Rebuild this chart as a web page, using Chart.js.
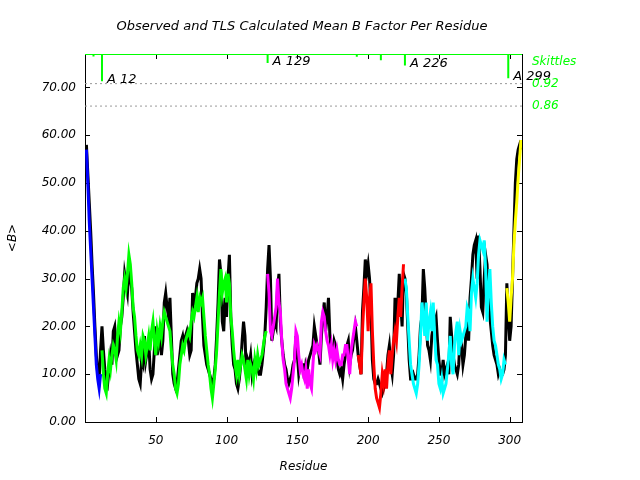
<!DOCTYPE html>
<html>
<head>
<meta charset="utf-8">
<script src="https://cdn.jsdelivr.net/npm/chart.js@4.4.0/dist/chart.umd.min.js"></script>
<style>
html,body{margin:0;padding:0;background:#ffffff;}
#wrap{width:640px;height:480px;}
</style>
</head>
<body>
<div id="wrap"><canvas id="c" width="640" height="480"></canvas></div>
<script>
// ---------------- DATA ----------------
const firstResidue = 1;

// Observed mean B factor per residue (black)
const observed = [
  58, 52, 46, 40, 33, 27, 20, 14, 10, 9,
  15, 20, 15, 11, 9, 8, 11, 14, 12, 19,
  20, 16, 14, 15, 20, 22, 26, 31, 29, 27,
  32, 30, 28, 23, 19, 15, 12, 9, 8, 13,
  12, 18, 13, 15, 17, 11, 9, 10, 15, 20,
  14, 16, 18, 14, 17, 25, 27, 24, 22, 26,
  18, 10, 8, 7, 8, 11, 14, 17, 18, 16,
  18, 19, 17, 14, 15, 27, 25, 26, 29, 30,
  32, 30, 22, 16, 14, 12, 11, 10, 9, 8,
  9, 12, 18, 25, 34, 31, 21, 19, 26, 22,
  30, 35, 22, 16, 12, 11, 8, 7, 9, 12,
  17, 21, 18, 10, 13, 12, 14, 10, 12, 13,
  12, 11, 10, 10, 12, 15, 18, 24, 32, 37,
  30, 17, 19, 21, 20, 28, 31, 21, 17, 14,
  12, 11, 9, 8, 9, 10, 12, 13, 18, 14,
  10, 12, 12, 12, 9, 12, 11, 13, 14, 15,
  16, 20, 18, 16, 15, 12, 18, 22, 25, 19,
  22, 26, 18, 15, 14, 17, 16, 13, 11, 10,
  11, 9, 12, 14, 16, 17, 12, 14, 15, 18,
  20, 17, 14, 12, 10, 23, 28, 34, 31, 33,
  30, 24, 13, 9, 8, 8, 9, 8, 7, 6,
  7, 8, 10, 14, 16, 12, 10, 14, 26, 20,
  25, 31, 25, 20, 31, 30, 27, 20, 13, 9,
  9, 10, 9, 9, 10, 14, 20, 22, 32, 28,
  22, 16, 15, 13, 18, 20, 21, 22, 17, 13,
  10, 10, 13, 10, 11, 12, 10, 22, 18, 14,
  12, 11, 10, 12, 18, 16, 12, 14, 18, 21,
  17, 26, 30, 35, 37, 38, 30, 39, 32, 24,
  23, 30, 35, 33, 26, 22, 19, 16, 14, 13,
  12, 10, 11, 10, 10, 11, 14, 29, 22, 17,
  20, 30, 40, 50, 55, 57, 58, 57
];

// TLS calculated mean B factor per residue (coloured by TLS segment)
const tlsCalc = [
  57, 50, 42, 36, 30, 24, 18, 12, 9, 7,
  10, 15, 10, 7, 6, 10, 13, 11, 14, 16,
  15, 13, 18, 21, 19, 23, 28, 30, 28, 31,
  35, 33, 29, 24, 22, 18, 15, 14, 16, 14,
  18, 17, 14, 16, 18, 15, 19, 21, 17, 14,
  19, 17, 20, 18, 21, 23, 22, 21, 20, 19,
  15, 12, 10, 7, 6, 8, 12, 14, 16, 15,
  17, 18, 19, 18, 21, 23, 22, 24, 26, 23,
  26, 25, 26, 22, 18, 15, 12, 10, 7, 5,
  8, 11, 15, 21, 27, 32, 27, 29, 30, 25,
  31, 29, 22, 19, 15, 12, 10, 13, 10, 12,
  14, 13, 11, 9, 13, 10, 12, 11, 9, 13,
  11, 14, 12, 13, 14, 16, 18, 19, 31, 27,
  19, 18, 20, 22, 24, 30, 25, 23, 17, 13,
  11, 8, 7, 6, 5, 7, 10, 13, 19, 18,
  14, 11, 12, 10, 9, 11, 7, 11, 8, 7,
  12, 16, 15, 16, 15, 14, 21, 23, 22, 19,
  17, 16, 14, 16, 13, 15, 13, 15, 13, 12,
  12, 14, 14, 16, 16, 13, 10, 15, 17, 19,
  21, 20, 14, 12, 10, 19, 25, 30, 26, 19,
  26, 29, 19, 12, 7, 5, 4, 3, 6, 10,
  8, 11, 7, 12, 15, 10, 14, 17, 19, 17,
  22, 26, 22, 28, 33, 30, 28, 22, 17, 12,
  10, 8, 7, 6, 8, 12, 18, 25, 22, 18,
  25, 17, 21, 23, 19, 25, 18, 13, 12, 8,
  7, 9, 6, 7, 8, 11, 14, 18, 12, 10,
  16, 19, 21, 14, 19, 17, 18, 19, 20, 24,
  23, 19, 27, 30, 28, 26, 29, 35, 38, 37,
  36, 38, 32, 21, 28, 32, 25, 20, 17, 16,
  14, 12, 11, 9, 10, 13, 12, 28, 25, 21,
  26, 30, 37, 42, 46, 51, 55, 59
];

// TLS segments (residue ranges)
const segmentStart = [1, 12, 129, 193, 226, 298];
const segmentEnd   = [11, 128, 192, 225, 297, 308];

// Skittles marks along the top
const skittleTop = 77;
const skittleResidues = [6, 12, 129, 192, 203, 206, 209, 213, 226, 299];
const skittleDepth    = [76.5, 71.3, 75.1, 76.4, 76.8, 76.8, 75.7, 76.8, 74.6, 71.9];

// Segment boundary labels
const markerResidues = [12, 129, 226, 299];
const markerLabels   = ['A 12', 'A 129', 'A 226', 'A 299'];

// Threshold lines
const thresholdValues = [70.8, 66.1];
const thresholdLabels = ['0.92', '0.86'];

// Axis ticks / ranges
const xTicks = [50, 100, 150, 200, 250, 300];
const yTicks = [0, 10, 20, 30, 40, 50, 60, 70];
const xRange = [0, 308.7];
const yRange = [0, 77];

// ---------------- STYLES ----------------
const segmentColors = ['#0000ff', '#00ff00', '#ff00ff', '#ff0000', '#00ffff', '#ffff00'];
const skittleColor = '#00ff00';
const FONT = '"DejaVu Sans", sans-serif';

// ---------------- BUILD ----------------
const obsPoints = observed.map((v, i) => ({ x: firstResidue + i, y: v }));

const segDatasets = segmentStart.map((s, k) => ({
  label: 'TLS ' + (k + 1),
  data: tlsCalc.slice(s - firstResidue, segmentEnd[k] - firstResidue + 1)
               .map((v, j) => ({ x: s + j, y: v })),
  borderColor: segmentColors[k],
  borderWidth: 3,
  pointRadius: 0,
  tension: 0,
  order: 2
}));

const skPoints = [{ x: xRange[0], y: skittleTop }];
skittleResidues.forEach((r, i) => {
  skPoints.push({ x: r, y: skittleTop }, { x: r, y: skittleDepth[i] }, { x: r, y: skittleTop });
});
skPoints.push({ x: xRange[1], y: skittleTop });

const thresholdDatasets = thresholdValues.map((t) => ({
  data: [{ x: xRange[0], y: t }, { x: xRange[1], y: t }],
  borderColor: '#999999',
  borderWidth: 1,
  borderDash: [2, 3],
  pointRadius: 0,
  order: 20
}));

const frame = {
  id: 'frame',
  beforeDatasetsDraw(chart) {
    const { ctx, chartArea: a, scales: { x, y } } = chart;
    ctx.save();
    ctx.strokeStyle = '#000';
    ctx.lineWidth = 1;
    ctx.strokeRect(Math.round(a.left) + 0.5, Math.round(a.top) + 0.5,
                   Math.round(a.right - a.left), Math.round(a.bottom - a.top));
    ctx.beginPath();
    const L = 5;
    xTicks.forEach(v => {
      const px = Math.round(x.getPixelForValue(v)) + 0.5;
      ctx.moveTo(px, a.bottom); ctx.lineTo(px, a.bottom - L);
      ctx.moveTo(px, a.top); ctx.lineTo(px, a.top + L);
    });
    yTicks.forEach(v => {
      const py = Math.round(y.getPixelForValue(v)) + 0.5;
      ctx.moveTo(a.left, py); ctx.lineTo(a.left + L, py);
      ctx.moveTo(a.right, py); ctx.lineTo(a.right - L, py);
    });
    ctx.stroke();
    ctx.restore();
  },
  afterDraw(chart) {
    const { ctx, chartArea: a, scales: { x, y } } = chart;
    ctx.save();
    ctx.fillStyle = '#000';
    ctx.textBaseline = 'middle';
    ctx.textAlign = 'center';
    ctx.font = 'italic 13px ' + FONT;
    ctx.fillText('Observed and TLS Calculated Mean B Factor Per Residue', 302, 27);
    ctx.font = 'italic 12px ' + FONT;
    ctx.fillText('Residue', (a.left + a.right) / 2, 467);
    ctx.save();
    ctx.translate(13, 238);
    ctx.rotate(-Math.PI / 2);
    ctx.fillText('<B>', 0, 0);
    ctx.restore();

    ctx.textAlign = 'left';
    ctx.font = 'italic 13px ' + FONT;
    markerResidues.forEach((r, i) => {
      const idx = skittleResidues.indexOf(r);
      const d = idx >= 0 ? skittleDepth[idx] : skittleTop - 3;
      ctx.fillText(markerLabels[i], x.getPixelForValue(r) + 5, y.getPixelForValue(d) - 1.5);
    });

    ctx.fillStyle = skittleColor;
    ctx.font = 'italic 12px ' + FONT;
    ctx.fillText('Skittles', a.right + 10, a.top + 7.5);
    thresholdValues.forEach((t, i) => {
      ctx.fillText(thresholdLabels[i], a.right + 10, y.getPixelForValue(t));
    });
    ctx.restore();
  }
};

const tickFont = { family: FONT, size: 12, style: 'italic' };

new Chart(document.getElementById('c'), {
  type: 'line',
  data: {
    datasets: [
      {
        label: 'Skittles',
        data: skPoints,
        borderColor: skittleColor,
        borderWidth: 2,
        pointRadius: 0,
        order: 0
      },
      ...segDatasets,
      {
        label: 'Observed',
        data: obsPoints,
        borderColor: '#000000',
        borderWidth: 3,
        pointRadius: 0,
        tension: 0,
        order: 10
      },
      ...thresholdDatasets
    ]
  },
  options: {
    responsive: false,
    animation: false,
    devicePixelRatio: 1,
    layout: { padding: { top: 54, right: 118, left: 0, bottom: 0 } },
    plugins: { legend: { display: false }, tooltip: { enabled: false }, title: { display: false } },
    scales: {
      x: {
        type: 'linear',
        min: xRange[0],
        max: xRange[1],
        afterFit(s) { s.height = 58; },
        afterBuildTicks(s) { s.ticks = xTicks.map(v => ({ value: v })); },
        ticks: { font: tickFont, color: '#000', padding: 12, maxRotation: 0, autoSkip: false },
        grid: { display: false, drawTicks: false },
        border: { display: false }
      },
      y: {
        type: 'linear',
        min: yRange[0],
        max: yRange[1],
        afterFit(s) { s.width = 85; },
        afterBuildTicks(s) { s.ticks = yTicks.map(v => ({ value: v })); },
        ticks: { font: tickFont, color: '#000', padding: 9, callback: v => Number(v).toFixed(2) },
        grid: { display: false, drawTicks: false },
        border: { display: false }
      }
    }
  },
  plugins: [frame]
});
</script>
</body>
</html>
